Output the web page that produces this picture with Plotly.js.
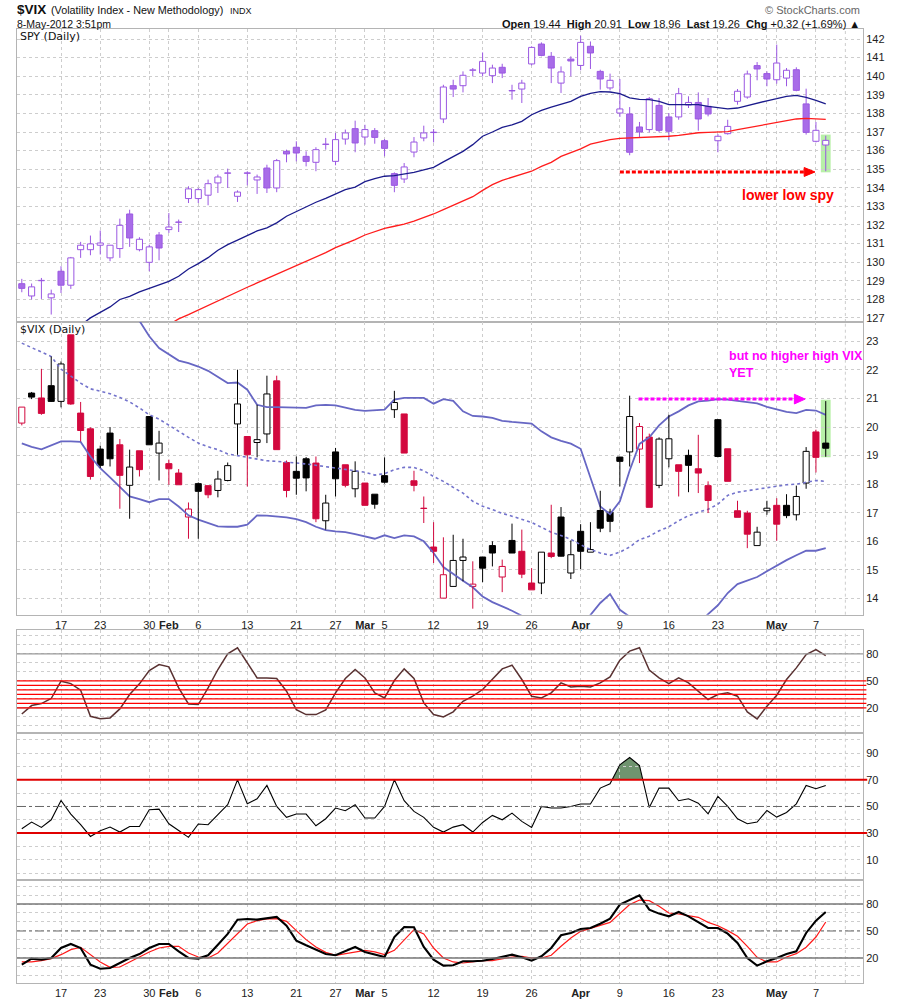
<!DOCTYPE html>
<html><head><meta charset="utf-8">
<script src="https://cdn.plot.ly/plotly-3.0.1.min.js"></script>
<style>html,body{margin:0;padding:0;background:#fff}#chart{width:900px;height:1000px}</style>
</head><body><div id="chart"></div>
<script>
// ---------------- DATA ----------------
const dates = ["2012-01-10","2012-01-11","2012-01-12","2012-01-13","2012-01-17","2012-01-18","2012-01-19","2012-01-20","2012-01-23","2012-01-24","2012-01-25","2012-01-26","2012-01-27","2012-01-30","2012-01-31",
"2012-02-01","2012-02-02","2012-02-03","2012-02-06","2012-02-07","2012-02-08","2012-02-09","2012-02-10","2012-02-13","2012-02-14","2012-02-15","2012-02-16","2012-02-17","2012-02-21","2012-02-22","2012-02-23","2012-02-24","2012-02-27","2012-02-28","2012-02-29",
"2012-03-01","2012-03-02","2012-03-05","2012-03-06","2012-03-07","2012-03-08","2012-03-09","2012-03-12","2012-03-13","2012-03-14","2012-03-15","2012-03-16","2012-03-19","2012-03-20","2012-03-21","2012-03-22","2012-03-23","2012-03-26","2012-03-27","2012-03-28","2012-03-29","2012-03-30",
"2012-04-02","2012-04-03","2012-04-04","2012-04-05","2012-04-09","2012-04-10","2012-04-11","2012-04-12","2012-04-13","2012-04-16","2012-04-17","2012-04-18","2012-04-19","2012-04-20","2012-04-23","2012-04-24","2012-04-25","2012-04-26","2012-04-27","2012-04-30",
"2012-05-01","2012-05-02","2012-05-03","2012-05-04","2012-05-07","2012-05-08"];

const tickDates = ["2012-01-17","2012-01-23","2012-01-30","2012-02-01","2012-02-06","2012-02-13","2012-02-21","2012-02-27","2012-03-01","2012-03-05","2012-03-12","2012-03-19","2012-03-26","2012-04-02","2012-04-09","2012-04-16","2012-04-23","2012-04-30","2012-05-01","2012-05-07"];
const tickLabels = ["17","23","30","<b>Feb</b>","6","13","21","27","<b>Mar</b>","5","12","19","26","<b>Apr</b>","9","16","23","","<b>May</b>","7"];

const spyOpen = [128.84,128.18,129.00,128.08,129.51,128.76,130.67,130.67,130.91,130.23,
130.73,132.59,130.67,129.99,131.46,131.75,132.14,133.42,133.42,133.60,
134.26,134.78,133.54,134.80,134.42,135.06,133.99,135.96,136.18,135.69,
135.37,136.33,135.42,136.62,137.18,136.73,137.07,136.53,134.76,134.47,
135.92,136.68,136.99,137.70,139.49,139.49,140.32,140.17,140.03,140.48,
139.23,139.31,140.66,141.73,141.07,139.63,140.92,140.58,141.61,140.26,
139.37,138.02,137.97,137.27,137.13,138.43,137.81,137.81,138.45,138.59,
138.38,136.53,136.91,138.65,138.88,140.57,140.14,139.81,139.90,140.35,
138.51,136.50,136.30];
const spyHigh = [129.10,128.85,129.15,128.52,129.78,130.28,131.09,131.43,131.70,130.91,
132.34,132.82,131.34,130.94,131.62,132.64,132.29,134.08,133.99,134.44,
134.71,135.03,133.86,134.89,134.71,135.24,135.55,136.05,136.50,135.96,
136.18,136.68,136.95,137.13,137.61,137.39,137.21,136.62,134.83,135.33,
136.73,137.34,137.16,139.54,139.81,140.26,140.44,141.28,140.62,140.67,
139.54,139.81,141.61,141.82,141.30,140.53,141.07,142.18,141.87,140.35,
140.14,139.85,138.34,137.54,138.88,138.83,138.02,139.37,138.92,139.13,
138.83,136.89,137.66,139.31,140.30,140.76,140.26,141.70,140.44,140.48,
139.33,137.54,136.80];
const spyLow = [128.38,127.99,128.02,127.18,128.34,128.56,130.23,130.37,130.41,130.05,
130.23,130.82,130.58,129.51,130.10,131.57,131.62,133.18,133.18,133.06,
133.72,133.99,133.24,134.13,133.67,133.72,133.76,135.37,135.42,135.15,
134.89,136.05,135.21,136.32,135.91,136.32,136.37,135.69,133.76,134.26,
135.64,136.50,136.44,137.48,138.88,139.13,139.99,139.99,139.63,139.90,
138.74,138.56,140.58,141.07,139.63,139.10,139.99,140.32,140.39,139.28,
139.24,137.81,135.75,136.71,136.98,136.98,136.55,137.66,138.29,137.07,
137.84,135.91,136.86,138.47,138.79,139.78,139.46,139.60,139.46,139.19,
136.86,136.44,134.89];
const spyClose = [128.59,128.67,129.02,128.29,128.76,130.23,130.91,130.98,131.03,130.91,
131.98,131.30,131.23,130.82,130.76,131.89,132.16,133.94,133.90,134.22,
134.58,134.80,133.77,134.78,134.58,133.99,135.46,135.82,135.87,135.42,
136.05,136.35,136.59,136.95,136.41,137.13,136.71,136.12,134.13,135.12,
136.46,136.95,136.97,139.42,139.31,140.05,140.34,140.80,140.44,140.17,
139.21,139.63,141.55,141.12,140.44,140.23,140.82,141.82,141.25,139.85,
139.78,138.24,135.91,137.00,138.79,137.09,137.04,139.06,138.59,137.70,
137.97,136.77,137.30,139.19,140.12,140.39,139.85,140.71,140.32,139.24,
136.98,137.09,136.55];

const spyMaFast = [null,null,null,null,null,null,
126.60,127.00,127.30,127.59,127.99,128.16,128.40,128.58,128.77,128.97,
129.24,129.63,129.92,130.24,130.64,130.94,131.18,131.43,131.68,131.84,
132.11,132.47,132.73,132.97,133.22,133.43,133.65,133.90,134.04,134.33,
134.49,134.62,134.65,134.72,134.83,134.96,135.10,135.39,135.66,135.96,
136.32,136.77,137.00,137.25,137.38,137.57,137.93,138.16,138.34,138.51,
138.65,138.92,139.08,139.17,139.15,139.06,138.83,138.76,138.74,138.65,
138.47,138.47,138.49,138.47,138.38,138.29,138.24,138.29,138.42,138.59,
138.68,138.79,138.92,138.97,138.86,138.70,138.51];
const spyMaSlow = [null,null,null,null,null,null,null,null,null,null,null,null,null,null,null,
126.63,126.95,127.18,127.43,127.66,127.90,128.15,128.40,128.65,128.88,
129.11,129.33,129.60,129.83,130.06,130.28,130.51,130.78,130.99,131.21,
131.46,131.66,131.82,131.93,132.04,132.21,132.38,132.59,132.82,133.06,
133.29,133.52,133.86,134.17,134.40,134.56,134.74,134.89,135.15,135.37,
135.69,135.87,136.09,136.35,136.48,136.59,136.66,136.68,136.68,136.71,
136.73,136.77,136.82,136.91,136.96,136.98,136.98,137.02,137.13,137.23,
137.32,137.41,137.52,137.63,137.70,137.73,137.72,137.68];

const vixPriorClose = 21.07;
const vixOpen = [20.14,21.19,21.02,21.45,20.90,23.23,20.49,19.94,19.23,19.79,
19.38,17.96,19.17,20.37,19.09,18.72,18.39,16.85,18.02,17.95,
17.78,18.13,20.11,19.67,19.46,19.76,21.62,18.76,18.45,18.89,
18.74,16.72,19.13,18.68,17.84,18.04,17.65,18.30,20.61,20.46,
18.12,17.16,15.80,14.01,14.42,15.33,14.42,15.45,15.85,14.75,
16.03,15.65,14.54,14.54,15.59,16.85,14.89,16.35,15.62,17.08,
17.02,18.95,19.13,19.23,19.65,17.96,18.89,18.68,19.01,18.54,
17.95,20.26,19.24,17.07,16.99,15.85,17.07,17.26,17.26,16.93,
18.04,19.83,19.44];
const vixHigh = [20.70,21.23,22.04,22.47,22.30,23.23,20.88,19.99,19.35,20.00,
19.58,19.21,19.17,20.37,19.87,18.86,18.53,17.36,18.06,17.95,
18.47,18.76,22.01,19.67,20.78,21.80,21.80,18.83,18.97,18.95,
18.97,17.63,19.27,18.68,18.80,18.04,17.65,18.94,21.27,20.46,
18.47,17.57,16.67,16.14,16.23,16.09,15.30,15.45,16.00,15.36,
16.62,16.41,15.06,15.62,17.28,17.20,16.03,16.60,16.67,17.77,
17.14,18.95,21.10,20.14,19.77,19.64,20.43,18.68,19.21,19.73,
18.10,20.28,19.24,17.42,17.07,16.51,17.42,17.51,17.65,17.95,
19.30,19.91,20.91];
const vixLow = [20.06,20.98,20.43,20.88,20.69,20.78,19.50,18.16,18.57,18.62,
17.14,16.79,18.27,19.38,18.13,17.98,17.98,16.09,16.09,17.51,
17.54,18.10,19.03,17.92,18.94,19.44,19.21,17.54,17.63,17.75,
16.67,16.41,17.57,17.89,17.54,17.26,17.14,18.02,20.32,19.09,
17.75,16.64,15.24,14.01,14.42,14.60,13.64,14.57,15.12,14.22,
15.59,14.71,14.30,14.15,15.41,15.47,14.68,15.03,15.62,16.32,
16.32,17.92,18.62,18.74,17.19,17.86,18.59,17.57,17.72,17.69,
16.99,18.94,18.10,16.84,15.76,15.85,16.93,16.02,16.81,16.73,
17.84,18.41,18.96];
const vixClose = [20.70,21.05,20.48,20.90,22.21,20.81,19.88,18.27,18.66,18.89,
18.31,18.60,18.51,19.38,19.44,18.54,17.98,17.13,17.75,17.63,
18.18,18.65,20.81,19.03,19.56,21.16,19.21,17.78,18.21,18.22,
16.79,17.34,18.19,17.96,18.45,17.26,17.30,18.07,20.86,19.09,
17.96,17.15,15.65,14.83,15.33,15.45,14.50,15.06,15.59,15.12,
15.59,14.85,14.30,15.62,15.47,15.48,15.53,15.65,15.71,16.46,
16.70,18.80,20.37,20.02,17.19,19.58,19.59,18.45,18.66,18.39,
17.43,18.97,18.10,16.84,16.25,16.32,17.16,16.60,16.90,17.57,
19.15,18.94,19.26];

const bbUpper = [null,null,null,null,null,null,null,null,null,null,null,null,
23.72,23.18,22.77,22.56,22.33,22.24,22.12,21.97,21.77,21.54,
21.56,21.31,20.78,20.70,20.70,20.69,20.69,20.67,20.76,20.78,
20.76,20.67,20.60,20.57,20.58,20.61,20.96,21.02,21.02,21.02,
20.82,20.98,20.92,20.55,20.39,20.37,20.32,20.22,20.18,20.16,
20.12,19.85,19.64,19.52,19.42,19.24,18.21,17.22,16.95,17.40,
18.48,19.41,19.64,20.06,20.37,20.55,20.76,20.90,20.93,20.98,
20.96,20.91,20.88,20.83,20.71,20.61,20.53,20.49,20.60,20.58,20.43];
const bbMiddle = [22.94,22.79,22.63,22.47,22.03,21.77,21.54,21.34,21.25,21.17,
21.04,20.88,20.67,20.43,20.28,20.06,19.83,19.64,19.44,19.31,
19.21,19.06,19.00,18.94,18.86,18.82,18.80,18.76,18.74,18.71,
18.66,18.61,18.56,18.52,18.45,18.42,18.32,18.37,18.51,18.59,
18.59,18.47,18.27,18.10,17.89,17.69,17.40,17.23,17.11,16.98,
16.88,16.78,16.66,16.49,16.32,16.20,16.07,15.88,15.71,15.59,
15.51,15.62,15.80,16.06,16.18,16.37,16.51,16.72,16.90,17.02,
17.12,17.30,17.61,17.72,17.77,17.84,17.89,17.93,17.98,18.00,
18.06,18.13,18.10];
const bbLower = [19.43,19.31,19.22,19.36,19.50,19.50,19.48,18.97,18.56,18.24,
17.92,17.57,17.48,17.37,17.48,17.48,17.22,16.91,16.76,16.64,
16.52,16.51,16.51,16.58,16.91,16.90,16.87,16.84,16.78,16.67,
16.51,16.39,16.35,16.32,16.25,16.17,16.09,16.21,16.11,16.21,
16.17,16.00,15.59,15.10,14.85,14.62,14.39,14.07,13.87,13.72,
13.57,13.39,null,null,null,null,null,13.00,13.43,13.84,
14.15,13.60,13.36,null,null,null,null,null,null,13.10,
13.45,13.76,14.19,14.50,14.62,14.75,14.95,15.15,15.34,15.51,
15.67,15.67,15.76];

const osc1 = [13.3,22.6,24.8,30.4,49.6,47.0,39.6,10.7,8.1,8.9,
18.9,34.8,46.7,61.5,68.1,65.6,42.2,24.4,23.7,42.2,
62.6,80.0,86.7,70.0,53.3,53.3,52.6,38.5,18.1,12.6,
12.6,17.8,36.7,52.6,62.6,53.3,36.7,31.1,50.4,63.3,
52.6,25.6,12.6,10.0,15.6,27.4,33.0,40.4,52.2,63.3,
67.4,51.5,33.0,31.1,36.7,47.8,43.3,44.1,43.3,47.8,
54.4,73.0,83.0,86.7,61.9,53.3,47.0,53.3,47.8,38.5,
29.3,34.8,36.7,33.0,15.6,7.8,21.9,34.1,51.5,64.4,
79.3,84.8,78.1];
const osc1RedLevels = [20,25,30,35,40,45,50];
const osc1GreyLevels = [80,20];

const rsi = [33.3,38.3,34.3,40.0,54.5,44.3,36.3,27.5,31.8,34.5,
30.8,35.0,35.0,47.5,48.0,37.0,32.0,26.8,36.8,36.3,
43.8,51.3,70.0,52.0,55.8,65.8,50.0,41.8,44.3,44.3,
35.5,40.8,48.8,46.8,51.3,41.3,41.3,50.0,70.0,54.3,
46.3,41.8,34.3,30.8,34.5,36.3,30.8,38.0,43.3,40.0,
45.0,38.8,34.3,50.0,48.8,48.8,50.0,51.8,51.8,63.8,
67.0,81.3,86.8,80.8,49.3,63.8,63.8,54.3,55.8,52.5,
44.5,57.5,50.0,40.8,37.0,38.3,47.0,42.0,45.5,52.0,
65.8,63.3,65.8];
const rsiLevels = [70,30];

const stochK = [12.6,19.3,18.1,20.0,31.1,35.6,31.1,12.6,8.1,8.9,
14.4,20.0,24.4,31.1,35.6,35.6,27.4,20.0,19.3,23.0,
34.8,46.7,62.6,63.3,62.6,64.4,65.6,55.9,39.3,34.1,
29.3,24.4,23.0,27.4,32.2,26.7,23.7,21.1,43.3,54.4,
54.1,32.2,18.1,11.5,11.9,16.3,16.3,17.0,18.9,21.1,
23.7,20.7,17.0,21.9,31.1,45.2,47.8,52.2,53.3,58.1,
63.7,79.3,84.8,89.6,73.7,69.3,66.3,71.1,66.3,59.6,
53.3,53.3,47.0,36.7,20.0,11.5,16.3,20.0,24.4,27.4,
47.8,61.5,71.1];
const stochD = [15.6,15.6,17.0,19.3,23.7,29.3,31.9,23.7,15.6,9.6,
10.0,15.6,21.1,26.7,31.1,33.0,33.0,25.6,21.1,20.0,
25.6,36.7,47.8,57.8,61.5,63.3,63.7,60.7,50.4,40.4,
32.2,26.3,23.0,24.8,27.4,28.5,26.7,23.7,28.5,40.4,
51.5,46.7,31.1,20.0,15.6,14.4,15.6,17.0,17.0,18.9,
21.1,21.9,20.0,20.0,23.0,33.0,42.2,49.6,53.3,56.3,
59.6,70.0,79.3,84.4,83.7,77.4,70.0,68.9,67.0,65.2,
59.6,55.9,50.4,44.1,33.0,20.7,15.6,15.6,21.1,24.8,
31.9,43.3,60.0];
const stochLevels = [80,20];

// ---------------- GEOMETRY (pixels -> paper) ----------------
const PL = 17, PR = 862.7, PT = 29.3, PB = 983.3;
const fx = x => (x - PL) / (PR - PL);
const fy = y => (PB - y) / (PB - PT);
const XR = [-0.49, 85.8];

const FONT = 'Liberation Sans, Arial, sans-serif';
const PURPLE = '#9a57e2', PURPLE_FILL = '#a86ce8', VRED = '#d2083e', BLACK = '#000000';

// ---------------- TRACES ----------------
const traces = [];
function wicks(idx, O, H, L, C) {
  const x = [], y = [];
  idx.forEach(i => {
    const top = Math.max(O[i], C[i]), bot = Math.min(O[i], C[i]);
    if (H[i] > top) { x.push(dates[i], dates[i], null); y.push(top, H[i], null); }
    if (L[i] < bot) { x.push(dates[i], dates[i], null); y.push(L[i], bot, null); }
  });
  return {x, y};
}
function bodies(O, C, fill, line, xa, ya) {
  return {type:'bar', x:dates, base:dates.map((d,i)=>Math.min(O[i],C[i])),
    y:dates.map((d,i)=>Math.abs(C[i]-O[i])), width:0.62,
    marker:{color:fill, line:{color:line, width:1}}, xaxis:xa, yaxis:ya, hoverinfo:'skip', showlegend:false};
}
const allIdx = dates.map((d,i)=>i);

// SPY panel
const sw = wicks(allIdx, spyOpen, spyHigh, spyLow, spyClose);
traces.push({type:'scatter', mode:'lines', x:sw.x, y:sw.y, line:{color:PURPLE, width:1}, xaxis:'x', yaxis:'y', hoverinfo:'skip', showlegend:false});
traces.push(bodies(spyOpen, spyClose, dates.map((d,i)=> spyClose[i] >= spyOpen[i] ? '#ffffff' : PURPLE_FILL), PURPLE, 'x', 'y'));
traces.push({type:'scatter', mode:'lines', x:dates, y:spyMaFast, line:{color:'#1b1b8c', width:1.3}, xaxis:'x', yaxis:'y', hoverinfo:'skip', showlegend:false});
traces.push({type:'scatter', mode:'lines', x:dates, y:spyMaSlow, line:{color:'#ff1c1c', width:1.3}, xaxis:'x', yaxis:'y', hoverinfo:'skip', showlegend:false});

// VIX panel
traces.push({type:'scatter', mode:'lines', x:dates, y:bbUpper, line:{color:'#6767c4', width:1.8}, xaxis:'x2', yaxis:'y2', hoverinfo:'skip', showlegend:false});
traces.push({type:'scatter', mode:'lines', x:dates, y:bbLower, line:{color:'#6767c4', width:1.8}, connectgaps:false, xaxis:'x2', yaxis:'y2', hoverinfo:'skip', showlegend:false});
traces.push({type:'scatter', mode:'lines', x:dates, y:bbMiddle, line:{color:'#7373cc', width:1.6, dash:'dot'}, xaxis:'x2', yaxis:'y2', hoverinfo:'skip', showlegend:false});
const vixUp = dates.map((d,i)=> vixClose[i] >= (i === 0 ? vixPriorClose : vixClose[i-1]));
const vixCol = vixUp.map(u => u ? BLACK : VRED);
const bw = wicks(allIdx.filter(i=>vixUp[i]), vixOpen, vixHigh, vixLow, vixClose);
const rw = wicks(allIdx.filter(i=>!vixUp[i]), vixOpen, vixHigh, vixLow, vixClose);
traces.push({type:'scatter', mode:'lines', x:bw.x, y:bw.y, line:{color:BLACK, width:1}, xaxis:'x2', yaxis:'y2', hoverinfo:'skip', showlegend:false});
traces.push({type:'scatter', mode:'lines', x:rw.x, y:rw.y, line:{color:VRED, width:1}, xaxis:'x2', yaxis:'y2', hoverinfo:'skip', showlegend:false});
traces.push(bodies(vixOpen, vixClose, dates.map((d,i)=> vixClose[i] >= vixOpen[i] ? '#ffffff' : vixCol[i]), vixCol, 'x2', 'y2'));

// Panel 3
traces.push({type:'scatter', mode:'lines', x:dates, y:osc1, line:{color:'#5a3232', width:1.5}, xaxis:'x3', yaxis:'y3', hoverinfo:'skip', showlegend:false});
// Panel 4
traces.push({type:'scatter', mode:'lines', x:dates, y:rsi, line:{color:'#000', width:1.1}, xaxis:'x4', yaxis:'y4', hoverinfo:'skip', showlegend:false});
// Panel 5
traces.push({type:'scatter', mode:'lines', x:dates, y:stochD, line:{color:'#ff1a1a', width:1.2}, xaxis:'x5', yaxis:'y5', hoverinfo:'skip', showlegend:false});
traces.push({type:'scatter', mode:'lines', x:dates, y:stochK, line:{color:'#000', width:2.1}, xaxis:'x5', yaxis:'y5', hoverinfo:'skip', showlegend:false});

// ---------------- AXES ----------------
const GRID = '#cdcdcd', FRAME = '#b4b4b4';
function xAx(anchor, labels) {
  return {type:'category', categoryorder:'array', categoryarray:dates, range:XR, anchor:anchor,
    tickmode:'array', tickvals:tickDates, ticktext:tickLabels, showticklabels:labels, ticks:'',
    showgrid:true, gridcolor:GRID, griddash:'dot', gridwidth:1, showline:true, mirror:true,
    linecolor:FRAME, linewidth:1, zeroline:false, fixedrange:true,
    tickfont:{family:FONT, size:11, color:'#222'}};
}
function yAx(anchor, domain, range, vals, text) {
  return {anchor:anchor, domain:domain, range:range, side:'right', tickmode:'array', tickvals:vals, ticktext:text,
    ticks:'', showgrid:true, gridcolor:GRID, griddash:'dot', gridwidth:1, showline:true, mirror:true,
    linecolor:FRAME, linewidth:1, zeroline:false, fixedrange:true,
    tickfont:{family:FONT, size:11, color:'#222'}};
}
const spyTicks = [127,128,129,130,131,132,133,134,135,136,137,138,139,140,141,142];
const vixTicks = [14,15,16,17,18,19,20,21,22,23];
const tens = [0,10,20,30,40,50,60,70,80,90,100];
const lbl = keep => tens.map(v => keep.includes(v) ? String(v) : '');

// ---------------- SHAPES ----------------
const shapes = [];
function hline(xa, ya, y, color, width, dash, ext) {
  shapes.push({type:'line', xref:xa+' domain', yref:ya, x0:0, x1:ext||1, y0:y, y1:y, line:{color:color, width:width, dash:dash||'solid'}, layer:'above'});
}
osc1GreyLevels.forEach(v => hline('x3','y3',v,'#999999',1.4));
osc1RedLevels.forEach(v => hline('x3','y3',v,'#ff0000',1.3,'solid',1.004));
rsiLevels.forEach(v => hline('x4','y4',v,'#e00000',2,'solid',1.005));
hline('x4','y4',50,'#666666',1,'dashdot');
stochLevels.forEach(v => hline('x5','y5',v,'#777777',1.3));
hline('x5','y5',50,'#666666',1,'dashdot');
// extra future gridline
['','2','3','4','5'].forEach(n => shapes.push({type:'line', xref:'x'+n, yref:'y'+n+' domain', x0:84, x1:84, y0:0, y1:1, line:{color:GRID, width:1, dash:'dot'}, layer:'below'}));

// green highlight boxes on the last bar
shapes.push({type:'rect', xref:'x', yref:'y', x0:81.5, x1:82.5, y0:134.83, y1:136.86, fillcolor:'#b8f0a8', line:{width:0}, layer:'below'});
shapes.push({type:'rect', xref:'x2', yref:'y2', x0:81.5, x1:82.5, y0:18.94, y1:20.96, fillcolor:'#b8f0a8', line:{width:0}, layer:'below'});

// RSI > 70 fill
(function(){
  const lev = 70; let poly = null; const polys = [];
  for (let i = 0; i < rsi.length; i++) {
    const a = rsi[i] > lev;
    if (a && !poly) {
      const xc = i === 0 ? 0 : (i-1) + (lev - rsi[i-1])/(rsi[i]-rsi[i-1]);
      poly = [[xc, lev]];
    }
    if (a) poly.push([i, rsi[i]]);
    if (!a && poly) {
      const xc = (i-1) + (lev - rsi[i-1])/(rsi[i]-rsi[i-1]);
      poly.push([xc, lev]); polys.push(poly); poly = null;
    }
  }
  polys.forEach(p => shapes.push({type:'path', xref:'x4', yref:'y4',
    path:'M' + p.map(q => q[0].toFixed(3)+','+q[1]).join(' L') + ' Z',
    fillcolor:'#6f946f', line:{width:0}, layer:'below'}));
})();

// annotation arrows
shapes.push({type:'line', xref:'x', yref:'y', x0:61, x1:79.9, y0:134.85, y1:134.85, line:{color:'#ff0000', width:3, dash:'4px,2px'}});
shapes.push({type:'path', xref:'x', yref:'y', path:'M79.8,135.09 L80.9,134.85 L79.8,134.61 Z', fillcolor:'#ff0000', line:{color:'#ff0000', width:1}});
shapes.push({type:'line', xref:'x2', yref:'y2', x0:62.9, x1:78.9, y0:20.98, y1:20.98, line:{color:'#ff00ff', width:3, dash:'4px,2px'}});
shapes.push({type:'path', xref:'x2', yref:'y2', path:'M78.8,21.15 L79.9,20.98 L78.8,20.81 Z', fillcolor:'#ff00ff', line:{color:'#ff00ff', width:1}});

// ---------------- ANNOTATIONS ----------------
const n = vixClose.length - 1;
const chg = vixClose[n] - vixClose[n-1];
const pct = chg / vixClose[n-1] * 100;
const quote = '<b>Open</b> ' + vixOpen[n].toFixed(2) + '  <b>High</b> ' + vixHigh[n].toFixed(2) +
  '  <b>Low</b> ' + vixLow[n].toFixed(2) + '  <b>Last</b> ' + vixClose[n].toFixed(2) +
  '  <b>Chg</b> ' + (chg>=0?'+':'') + chg.toFixed(2) + ' (' + (pct>=0?'+':'') + pct.toFixed(2) + '%) ▲';
function txt(text, x, y, size, opts) {
  return Object.assign({xref:'paper', yref:'paper', x:fx(x), y:fy(y), text:text, showarrow:false,
    xanchor:'left', yanchor:'middle', font:{family:FONT, size:size, color:'#111'}}, opts||{});
}
const MAG = {family:FONT, size:12.5, color:'#ff00ff'};
const annotations = [
  txt('<b>$VIX</b>', 15, 10, 13.5),
  txt('(Volatility Index - New Methodology)', 49, 10.5, 10.8),
  txt('INDX', 228, 11, 9),
  txt('8-May-2012 3:51pm', 15, 24, 10.5),
  txt('© StockCharts.com', 862, 10, 11, {xanchor:'right', font:{family:FONT, size:11, color:'#666'}}),
  txt(quote, 862, 24, 11, {xanchor:'right'}),
  txt('SPY (Daily)', 18, 37, 11, {font:{family:'DejaVu Sans, sans-serif', size:11, color:'#111'}}),
  txt('$VIX (Daily)', 18, 330, 11, {font:{family:'DejaVu Sans, sans-serif', size:11, color:'#111'}}),
  txt('<b>lower low spy</b>', 788, 195, 14, {xanchor:'center', font:{family:FONT, size:14, color:'#ff0000'}}),
  txt('<b>but no higher high VIX</b>', 727, 356, 12.5, {font:MAG}),
  txt('<b>YET</b>', 727, 373, 12.5, {font:MAG})
];

const layout = {
  width:900, height:1000, paper_bgcolor:'#fff', plot_bgcolor:'#fff',
  margin:{l:PL, r:900-PR, t:PT, b:1000-PB, pad:0}, showlegend:false, barmode:'overlay',
  xaxis:xAx('y', false), xaxis2:xAx('y2', true), xaxis3:xAx('y3', false), xaxis4:xAx('y4', false), xaxis5:xAx('y5', true),
  yaxis: yAx('x',  [fy(322.3), 1], [126.78, 142.54], spyTicks, spyTicks.map(String)),
  yaxis2:yAx('x2', [fy(615), fy(322.3)], [13.43, 23.68], vixTicks, vixTicks.map(String)),
  yaxis3:yAx('x3', [fy(733), fy(630.7)], [-7.5, 106], tens, lbl([20,50,80])),
  yaxis4:yAx('x4', [fy(880), fy(733)], [-5, 105.4], tens, lbl([10,30,50,70,90])),
  yaxis5:yAx('x5', [0, fy(880)], [-7.8, 107], tens, lbl([20,50,80])),
  shapes:shapes, annotations:annotations
};
Plotly.newPlot('chart', traces, layout, {staticPlot:true, displayModeBar:false});
</script></body></html>
